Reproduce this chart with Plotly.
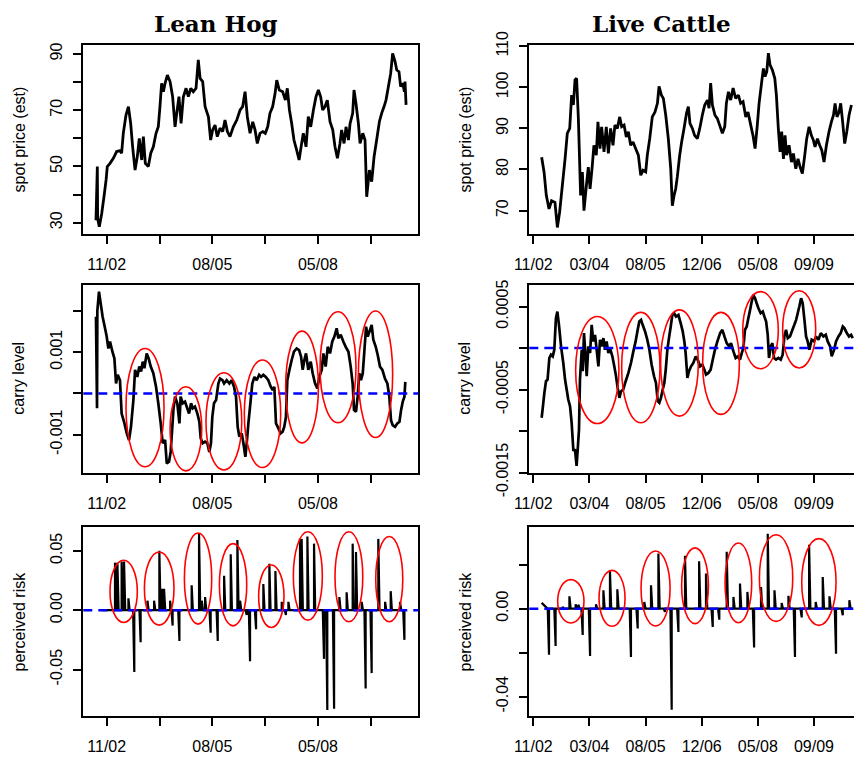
import numpy as np
import plotly.graph_objects as go

# ---------------- data (x = trading-day index, tick every 350 days) ----------------
tick_days = [0, 350, 700, 1050, 1400, 1750]
tick_dates = ["11/02", "03/04", "08/05", "12/06", "05/08", "09/09"]

hog_day = [-71,-62,-60,-49,-33,-18,-4,4,22,44,66,88,99,110,128,144,159,172,188,203,
           216,232,243,256,276,292,309,327,342,353,364,376,387,402,420,437,453,464,479,493,
           508,526,541,557,574,592,607,619,636,652,674,689,702,718,733,751,769,784,800,817,
           839,862,884,901,917,932,950,968,983,998,1016,1034,1051,1067,1082,1100,1116,1127,1144,1166,
           1184,1197,1211,1226,1241,1259,1275,1292,1303,1321,1336,1352,1370,1387,1403,1418,1431,1447,1462,1480,
           1498,1513,1529,1546,1557,1573,1586,1602,1613,1630,1639,1652,1668,1679,1697,1712,1723,1741,1756,1772,
           1789,1807,1822,1838,1851,1867,1882,1895,1911,1922,1937,1948,1962,1973,1977,1984]
hog_price = [30.9,50,31.5,28.6,33.3,39.2,45.2,50,51.1,52.9,55.3,55.6,54.7,61.8,68.3,71.3,65.3,57,48.7,53.5,
             60,52.3,60.6,51.1,50,54.7,57,61.8,64.1,71.3,79.6,76.6,79.6,82.5,80.2,74.8,64.1,68.9,74.8,65.3,
             74.8,77.8,74.8,77.8,76.6,77.8,87.9,81.3,80.2,71.3,67.7,59.4,63,64.7,60.6,63.6,62.4,66.5,62.4,60.6,
             64.1,66.5,70.1,71.3,76.6,67.7,61.8,65.9,63,58.2,61.8,62.4,61.8,64.1,68.9,71.3,76,80.7,77.2,76.6,
             73.6,77.8,70.1,65.3,59.4,55.8,52.3,58.2,61.8,57,67.7,64.1,70.1,74.8,77.2,74.8,70.1,71.3,73.6,65.9,
             63,57,52.9,58.2,63,58.2,64.1,59.4,65.3,68.9,77.2,72.4,65.3,58.2,61.8,59.4,39.2,48.7,44.6,53.5,
             59.4,65.9,68.9,71.3,73.6,78.4,83.1,90.2,87.3,84.3,83.7,78.4,79.6,76.6,80.2,71.9]

cattle_day = [52,67,81,98,114,135,150,164,181,198,212,227,239,250,260,270,281,295,306,316,
              331,343,354,368,378,393,403,416,426,441,455,468,482,497,509,524,539,551,566,580,
              593,607,622,638,655,670,684,701,711,726,742,759,774,784,799,811,826,842,857,867,
              878,888,898,913,925,940,955,967,977,992,1006,1023,1038,1054,1069,1086,1096,1106,1117,1133,
              1148,1162,1179,1194,1204,1217,1231,1246,1262,1279,1293,1308,1325,1339,1356,1370,1383,1397,1408,1422,
              1435,1445,1456,1466,1476,1491,1506,1516,1528,1539,1549,1560,1570,1580,1595,1610,1622,1637,1651,1664,
              1678,1693,1705,1720,1734,1747,1757,1772,1786,1799,1813,1828,1844,1859,1872,1882,1894,1907,1917,1928,
              1942,1955,1969,1984]
cattle_price = [83.0,79.4,73.7,70.4,72.4,72.0,65.9,69.6,76.1,82.6,88.8,90,98.1,95.7,101.8,102.2,92.4,73.7,79.4,70.0,
                76.1,80.6,75.3,81.0,85.9,83.5,91.6,85.1,90.4,84.3,90.4,83.9,90,85.9,90.8,90,92.8,90.4,90.8,87.9,
                89.2,85.9,86.7,85.1,83.5,78.6,79.8,79.4,83.5,87.5,92.8,94.0,96.1,100.2,98.1,97.3,93.2,87.5,80.2,71.2,
                73.7,75.3,78.2,83.5,86.7,90,93.6,95.3,91.2,90,88.3,87.5,90,93.2,95.7,96.9,94.9,101,95.7,93.2,
                92.4,90.8,88.8,90.4,96.1,98.9,96.9,99.8,97.3,98.1,96.1,96.5,92.8,94.0,90.8,88.3,85.1,90.8,96.1,100.6,
                104.6,102.6,103.8,108.3,105.5,104.2,102.2,98.1,90,84.3,89.2,82.6,88.3,83.5,85.9,81.8,83.9,80.2,82.6,80.6,
                79.0,83.5,87.5,90.4,88.3,87.1,85.5,87.5,85.9,84.7,81.8,85.9,89.2,91.6,93.2,96.1,92.8,94.0,96.1,92.0,
                86.3,89.2,93.2,95.7]

hog_carry_day = [-71,-64,-62,-51,-40,-27,-11,0,11,22,38,51,62,73,88,99,115,133,148,161,
                 177,188,203,216,228,239,250,265,278,292,309,327,342,358,371,387,398,413,424,435,
                 442,453,468,482,490,504,519,530,546,559,570,585,601,614,623,636,652,667,680,691,
                 700,711,725,740,751,767,778,795,813,828,844,857,868,879,895,906,919,928,939,950,
                 965,979,994,1010,1023,1038,1054,1071,1087,1100,1111,1122,1138,1153,1166,1177,1188,1197,1211,1226,
                 1241,1259,1275,1288,1299,1310,1321,1336,1352,1365,1381,1396,1409,1425,1436,1451,1465,1480,1495,1509,
                 1524,1535,1551,1568,1584,1602,1617,1630,1639,1652,1663,1674,1685,1697,1708,1719,1730,1745,1756,1767,
                 1783,1796,1811,1827,1844,1860,1873,1884,1895,1911,1926,1940,1951,1962,1973,1979]
hog_carry_milli = [1.86,-0.36,2.0,2.47,2.19,1.86,1.58,1.38,1.09,1.26,1.01,0.85,0.24,0.45,0.32,-0.49,-0.69,-0.97,-1.13,-0.81,
                   -0.16,0.57,0.40,0.65,0.53,0.77,0.61,0.97,0.85,0.65,0.49,0.16,-0.24,-0.73,-1.21,-1.13,-1.70,-1.66,-1.42,-0.81,
                   -0.40,-0.08,-0.24,-0.73,-0.08,-0.24,-0.20,-0.32,-0.49,-0.24,-0.36,-0.32,-0.49,-0.69,-1.09,-1.21,-1.17,-1.21,-1.42,-1.21,
                   -0.57,-0.24,-0.16,0.24,0.36,0.32,0.24,0.32,0.24,0.32,0.16,-0.08,-0.81,-1.05,-0.97,-1.21,-1.54,-1.21,-0.73,-0.32,
                   0.24,0.40,0.32,0.45,0.40,0.45,0.40,0.32,0.16,0.08,0.16,-0.73,-0.85,-0.97,-0.93,-0.81,-0.57,0.32,0.57,0.81,
                   1.01,1.09,1.05,0.89,0.57,0.81,0.97,0.57,0.77,0.49,0.24,0.12,0.40,0.57,0.97,0.65,1.13,0.97,1.26,1.38,
                   1.58,1.34,1.42,1.26,1.13,1.01,0.65,0.24,-0.40,-0.45,-0.08,0.49,0.32,0.49,1.05,1.62,1.38,1.54,1.66,1.30,
                   1.13,0.93,0.65,0.57,0.36,0.24,-0.08,-0.65,-0.77,-0.81,-0.73,-0.69,-0.40,-0.20,-0.08,0.28]

cattle_carry_day = [52,58,69,79,89,100,110,121,131,141,150,160,173,187,198,208,218,229,239,250,
                    260,270,277,285,291,302,308,316,326,333,343,354,364,374,385,395,406,416,426,437,
                    447,457,468,478,493,505,516,526,537,547,561,576,593,609,624,638,651,661,672,682,
                    697,711,724,738,753,765,776,786,796,807,817,826,836,846,857,867,878,890,905,919,
                    932,942,950,961,971,984,998,1013,1025,1040,1054,1067,1077,1092,1106,1119,1133,1148,1165,1179,
                    1192,1206,1221,1233,1248,1262,1275,1289,1300,1310,1320,1331,1341,1352,1362,1372,1383,1393,1404,1418,
                    1431,1441,1452,1462,1470,1481,1491,1501,1514,1528,1543,1555,1566,1576,1587,1601,1616,1628,1639,1649,
                    1659,1670,1680,1691,1701,1711,1722,1736,1751,1763,1778,1793,1809,1824,1836,1851,1861,1876,1888,1903,
                    1917,1930,1940,1955,1969,1982,1992]
cattle_carry_e4 = [-8.4,-7.4,-5.4,-4.0,-3.8,-1.2,-0.8,-1.0,-0.2,3.6,4.4,2.8,0.2,-1.8,-3.8,-5.0,-6.2,-7.0,-9.0,-12.4,
                   -12.2,-14.2,-12.2,-9.8,-3.8,-0.2,-2.8,1.8,-1.0,-3.4,0.2,-0.6,2.8,0.8,1.6,-0.2,-2.2,1.0,0.2,1.2,
                   -0.2,0.8,-0.6,0,-1.0,-2.2,-3.4,-4.8,-6.0,-5.2,-5.0,-4.0,-3.0,-1.8,-0.4,0.8,2.2,3.2,3.4,2.8,
                   2.0,1.0,-0.2,-2.0,-3.4,-4.2,-6.4,-6.6,-6.0,-5.0,-4.2,-2.6,-0.2,1.2,2.6,4.0,4.2,3.8,4.0,3.0,
                   2.0,0.8,-0.6,-3.6,-2.8,-2.2,-1.8,-1.0,-1.4,-2.2,-2.0,-2.6,-3.2,-3.0,-2.6,-1.4,-0.2,0.8,1.8,2.2,
                   1.4,0.6,0.2,0.6,-0.4,-1.2,-1.0,-1.4,-0.6,0,2.2,2.6,3.6,4.6,5.6,6.4,6.0,5.4,4.8,4.2,
                   4.4,3.8,3.2,1.6,-1.2,0.2,0.6,-1.2,-1.4,-1.2,-1.4,-0.8,1.4,2.2,1.2,1.4,2.2,2.8,3.4,4.2,
                   5.0,6.0,5.4,3.4,1.4,0.8,-0.2,1.0,0.8,1.4,1.0,1.8,1.4,1.6,0.8,0.2,-1.0,-0.2,0.8,1.4,
                   1.8,2.6,2.4,1.8,1.4,1.6,1.2]

# perceived risk: spike days and spike heights (series rests at 0 between spikes)
hog_risk_span = [-27, 1977]
hog_spike_day = [55,71,99,115,144,183,225,270,314,349,369,380,420,437,482,563,612,630,652,689,736,
                 778,822,866,884,928,950,990,1038,1078,1118,1160,1188,1204,1281,1292,1330,1374,1440,1462,1507,
                 1542,1590,1630,1652,1690,1716,1756,1800,1845,1882,1944,1973]
hog_spike_val = [0.040,0.040,0.041,0.041,0.010,-0.052,-0.027,0.008,0.008,0.050,0.018,0.018,0.008,-0.013,-0.026,
                 0.021,0.065,0.008,0.011,-0.019,-0.026,0.029,0.047,0.059,0.008,-0.004,-0.043,-0.016,
                 0.022,0.039,0.033,0.007,-0.004,0.007,0.060,0.060,0.062,0.056,-0.041,-0.084,-0.083,
                 0.011,0.015,0.056,0.049,0.007,-0.066,-0.053,0.060,0.007,0.016,0.007,-0.025]

cattle_risk_span = [52, 1992]
cattle_risk_start = 0.0026
cattle_spike_day = [98,139,183,225,264,281,308,354,391,437,478,524,609,651,692,734,780,821,863,905,
                    946,1034,1077,1119,1160,1206,1248,1289,1335,1377,1420,1462,1504,1549,1591,1632,1674,
                    1720,1761,1805,1847,1888,1930,1971]
cattle_spike_val = [-0.021,-0.017,0.0008,0.0056,0.002,0.0018,-0.012,-0.0215,0.002,0.0083,0.017,0.0088,
                    -0.022,-0.009,0.003,0.0106,0.025,-0.0015,-0.046,-0.0106,0.024,0.0215,0.016,-0.0083,-0.005,
                    0.0258,0.0053,0.0114,0.0076,-0.0177,0.0098,0.034,0.0083,0.0026,0.0058,-0.022,-0.004,
                    0.029,0.003,0.0144,0.0056,-0.0205,-0.003,0.0038]

# highlighted regimes (ellipses): day range and value range
hog_carry_ell_day = [(128,380),(420,630),(658,895),(912,1153),(1186,1403),(1414,1652),(1668,1895)]
hog_carry_ell_milli = [(-1.78,1.09),(-1.88,0.16),(-1.86,0.50),(-1.80,0.81),(-1.20,1.51),(-0.71,1.98),(-1.07,2.0)]
hog_risk_ell_day = [(22,203),(250,446),(515,696),(747,928),(1007,1175),(1237,1429),(1513,1697),(1783,1962)]
hog_risk_ell_val = [(-0.0104,0.042),(-0.0126,0.049),(-0.0118,0.065),(-0.0132,0.056),(-0.0146,0.038),
                    (-0.0084,0.066),(-0.0098,0.066),(-0.0098,0.062)]
cattle_carry_ell_day = [(264,534),(551,790),(794,1029),(1056,1285),(1306,1528),(1555,1761)]
cattle_carry_ell_e4 = [(-9.1,3.8),(-9.0,4.3),(-8.2,4.6),(-8.0,4.3),(-2.5,6.8),(-2.4,6.9)]
cattle_risk_ell_day = [(152,316),(410,572),(672,853),(925,1092),(1196,1362),(1410,1618),(1674,1888)]
cattle_risk_ell_val = [(-0.0065,0.0132),(-0.0080,0.0174),(-0.0079,0.0262),(-0.0068,0.0276),
                       (-0.0064,0.0298),(-0.0058,0.0336),(-0.0076,0.0318)]

# ---------------- helpers ----------------
def spike_series(span, days, vals, start_val=0.0):
    xs, ys = [span[0]], [start_val]
    for d, v in sorted(zip(days, vals)):
        if v >= 0:
            xs += [d, d, d + 8]
            ys += [0.0, v, 0.0]
        else:
            xs += [d - 8, d, d]
            ys += [0.0, v, 0.0]
    xs.append(span[1]); ys.append(0.0)
    return xs, ys

W, H = 854, 758
FONT = "Liberation Sans, Arial, sans-serif"

def px(v):  # pixel -> paper x
    return v / W

def py(v):  # pixel -> paper y
    return 1 - v / H

left_dom = [px(83.3), px(418.3)]
right_dom = [px(529.3), 1.0]
row_dom = [[py(234), py(45)], [py(472.5), py(285)], [py(716), py(527)]]

fig = go.Figure()

hx, hy = spike_series(hog_risk_span, hog_spike_day, hog_spike_val)
cx, cy = spike_series(cattle_risk_span, cattle_spike_day, cattle_spike_val, cattle_risk_start)

series = [
    (hog_day, hog_price, 2.8),
    (cattle_day, cattle_price, 2.8),
    (hog_carry_day, list(np.array(hog_carry_milli) * 1e-3), 2.7),
    (cattle_carry_day, list(np.array(cattle_carry_e4) * 1e-4), 2.7),
    (hx, hy, 2.2),
    (cx, cy, 2.2),
]
for i, (x, y, w) in enumerate(series, start=1):
    fig.add_trace(go.Scatter(x=x, y=y, mode="lines",
                             line=dict(color="black", width=w, simplify=False),
                             hoverinfo="skip", xaxis=f"x{i}", yaxis=f"y{i}", showlegend=False))

yranges = [[25.98, 93.2], [64.3, 110.3], [-0.00192, 0.00263], [-0.0015, 0.00076],
           [-0.0891, 0.0700], [-0.0488, 0.0371]]
ytick = [
    ([30, 40, 50, 60, 70, 80, 90], ["30", "", "50", "", "70", "", "90"]),
    ([70, 80, 90, 100, 110], ["70", "80", "90", "100", "110"]),
    ([-0.001, 0, 0.001, 0.002], ["-0.001", "", "0.001", ""]),
    ([-0.0015, -0.001, -0.0005, 0, 0.0005], ["-0.0015", "", "-0.0005", "", "0.0005"]),
    ([-0.05, 0, 0.05], ["-0.05", "0.00", "0.05"]),
    ([-0.04, -0.02, 0, 0.02], ["-0.04", "", "0.00", ""]),
]
ytitles = ["spot price (est)", "spot price (est)", "carry level", "carry level",
           "perceived risk", "perceived risk"]

layout = dict(width=W, height=H, margin=dict(l=0, r=0, t=0, b=0), autosize=False,
              paper_bgcolor="white", plot_bgcolor="white", showlegend=False,
              font=dict(family=FONT, size=16, color="black"))
annotations = []
for i in range(1, 7):
    left = (i % 2 == 1)
    row = (i - 1) // 2
    xt = tick_dates if not left else [t if k % 2 == 0 else "" for k, t in enumerate(tick_dates)]
    layout[f"xaxis{i}"] = dict(
        domain=left_dom if left else right_dom, anchor=f"y{i}",
        range=[-155, 2065] if left else [-25, 2000],
        tickvals=tick_days, ticktext=xt, ticks="outside", ticklen=8, tickwidth=2,
        tickcolor="black", showline=True, linewidth=2, linecolor="black", mirror=True,
        showgrid=False, zeroline=False, automargin=False, ticklabelstandoff=7,
        tickfont=dict(family=FONT, size=16, color="black"))
    tv, tt = ytick[i - 1]
    layout[f"yaxis{i}"] = dict(
        domain=row_dom[row], anchor=f"x{i}", range=yranges[i - 1],
        tickvals=tv, ticktext=tt, tickangle=-90, ticks="outside", ticklen=8, tickwidth=2,
        tickcolor="black", showline=True, linewidth=2, linecolor="black", mirror=left,
        showgrid=False, zeroline=False, automargin=False, ticklabelstandoff=5,
        tickfont=dict(family=FONT, size=16, color="black"))
    annotations.append(dict(text=ytitles[i - 1], xref="paper", yref="paper",
                            x=px(19 if left else 465), y=(row_dom[row][0] + row_dom[row][1]) / 2,
                            textangle=-90, showarrow=False, xanchor="center", yanchor="middle",
                            font=dict(family=FONT, size=16, color="black")))

annotations.append(dict(text="<b>Lean Hog</b>", xref="paper", yref="paper", x=px(216), y=py(23),
                        showarrow=False, xanchor="center", yanchor="middle",
                        font=dict(family="DejaVu Serif, serif", size=23, color="black")))
annotations.append(dict(text="<b>Live Cattle</b>", xref="paper", yref="paper", x=px(661), y=py(23),
                        showarrow=False, xanchor="center", yanchor="middle",
                        font=dict(family="DejaVu Serif, serif", size=23, color="black")))
layout["annotations"] = annotations

shapes = []
for i in (3, 4, 5, 6):
    shapes.append(dict(type="line", xref=f"x{i} domain", x0=0, x1=1, yref=f"y{i}", y0=0, y1=0,
                       line=dict(color="#0000FF", width=2.5, dash="9px,6px")))

def add_ellipses(i, days, vals, scale=1.0):
    for (d0, d1), (v0, v1) in zip(days, vals):
        shapes.append(dict(type="circle", xref=f"x{i}", yref=f"y{i}", x0=d0, x1=d1,
                           y0=v0 * scale, y1=v1 * scale, line=dict(color="#FF0000", width=1.6)))

add_ellipses(3, hog_carry_ell_day, hog_carry_ell_milli, 1e-3)
add_ellipses(4, cattle_carry_ell_day, cattle_carry_ell_e4, 1e-4)
add_ellipses(5, hog_risk_ell_day, hog_risk_ell_val)
add_ellipses(6, cattle_risk_ell_day, cattle_risk_ell_val)
layout["shapes"] = shapes

fig.update_layout(**layout)
fig.write_html("out.html")
